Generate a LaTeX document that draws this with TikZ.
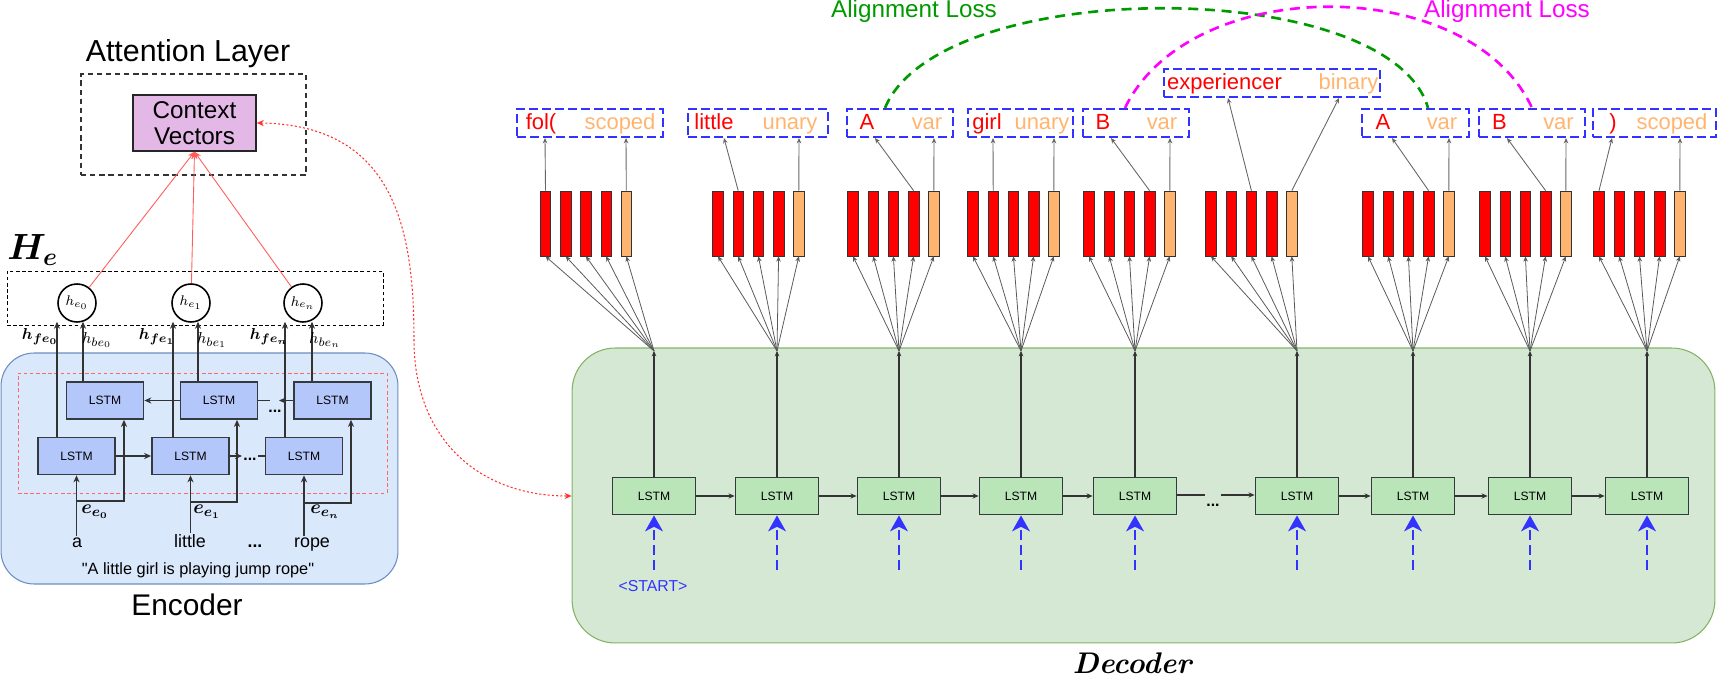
\documentclass[tikz,border=0pt]{standalone}
\usepackage{amsmath}
\usepackage{fontspec}
\setsansfont{Liberation Sans}[Ligatures=TeXOff]
\usetikzlibrary{arrows.meta,calc,positioning}
\definecolor{encfill}{HTML}{DAE8FC}
\definecolor{encedge}{HTML}{6C8EBF}
\definecolor{decfill}{HTML}{D5E8D4}
\definecolor{decedge}{HTML}{82B366}
\definecolor{lstmblue}{HTML}{B4C7FA}
\definecolor{lstmgreen}{HTML}{B9E5B9}
\definecolor{lstmedge}{HTML}{36393D}
\definecolor{ctxfill}{HTML}{E3B8E6}
\definecolor{tokred}{HTML}{FF0000}
\definecolor{tokorange}{HTML}{FFB570}
\definecolor{boxblue}{HTML}{3333FF}
\definecolor{lossgreen}{HTML}{009900}
\definecolor{lossmag}{HTML}{FF00FF}
\definecolor{attnred}{HTML}{FF3333}

\begin{document}
\begin{tikzpicture}[x=0.02cm,y=-0.02cm,font=\sffamily]
	\tikzset{lstmenc/.style={draw=lstmedge,line width=1pt,fill=lstmblue,minimum width=1.54cm,minimum height=0.74cm,inner sep=0pt,font=\sffamily\fontsize{6.9}{8}\selectfont}}
	\tikzset{lstmdec/.style={draw=lstmedge,line width=1pt,fill=lstmgreen,minimum width=1.66cm,minimum height=0.74cm,inner sep=0pt,font=\sffamily\fontsize{6.9}{8}\selectfont}}
	\tikzset{hcircle/.style={circle,draw=black,line width=0.9pt,fill=white,minimum size=0.76cm,inner sep=0pt,font=\fontsize{8.5}{10}\selectfont}}
	\tikzset{bar/.style={draw=black!80,line width=0.4pt,minimum width=0.21cm,minimum height=1.3cm,inner sep=0pt}}
	\tikzset{tokbox/.style={draw=boxblue,line width=1.2pt,dash pattern=on 5pt off 2.4pt,minimum height=0.56cm,inner sep=0pt}}
	\tikzset{tok/.style={anchor=base,inner sep=0pt,font=\sffamily\fontsize{12.5}{15}\selectfont}}
	\tikzset{word/.style={anchor=base,inner sep=1pt,font=\sffamily\fontsize{10.2}{12}\selectfont}}
	\tikzset{fan/.style={draw=black!65,line width=0.45pt,-{Stealth[length=3pt,width=2.6pt]}}}
	\tikzset{outarrow/.style={draw=black!60,line width=0.5pt,-{Stealth[length=3pt,width=2.6pt]}}}
	\tikzset{uparrow/.style={draw=black!80,line width=0.6pt,-{Stealth[length=3pt,width=2.6pt]}}}
	\tikzset{decarr/.style={draw=black!80,line width=0.6pt,-{Stealth[length=3.5pt,width=3pt]}}}
	\tikzset{inarrow/.style={draw=boxblue,line width=1.5pt,dash pattern=on 5.5pt off 3pt,-{Stealth[length=9pt,width=10pt,inset=2.5pt]}}}
	\tikzset{encarr/.style={draw=black!80,line width=0.6pt,-{Stealth[length=4pt,width=3.5pt]}}}
	\tikzset{encline/.style={draw=black!80,line width=0.6pt}}
	\tikzset{attn/.style={draw=attnred!80,line width=0.5pt,-{Stealth[length=4pt,width=3.5pt]}}}
	\tikzset{ctxlink/.style={draw=attnred,line width=0.6pt,dash pattern=on 1.2pt off 1.2pt,{Stealth[length=4pt,width=3.5pt]}-{Stealth[length=4pt,width=3.5pt]}}}
	\tikzset{lossline/.style={line width=1.5pt,dash pattern=on 5.7pt off 3.8pt}}
	\tikzset{smalldots/.style={font=\sffamily\bfseries\fontsize{9}{10}\selectfont,inner sep=0pt}}

	\useasboundingbox (0,0) rectangle (1718,678);

	% backgrounds
	\node[draw=encedge,fill=encfill,line width=0.6pt,minimum width=7.94cm,minimum height=4.62cm,rounded corners=0.66cm,inner sep=0pt] (enc) at (199.5,468.5) {};
	\node[draw=decedge,fill=decfill,line width=0.6pt,minimum width=22.86cm,minimum height=5.9cm,rounded corners=0.86cm,inner sep=0pt] (dec) at (1143.5,495.5) {};

	% attention
	\node[anchor=base,font=\sffamily\fontsize{17.3}{20}\selectfont] (attnlab) at (188,62) {Attention Layer};
	\node[draw=black!80,line width=0.9pt,dash pattern=on 3pt off 2.2pt,minimum width=4.5cm,minimum height=2.02cm] (attnbox) at (193.5,124.5) {};
	\node[draw=black!85,fill=ctxfill,line width=0.9pt,minimum width=2.46cm,minimum height=1.12cm,align=center,inner sep=0pt,font=\sffamily\fontsize{13.8}{14.5}\selectfont] (ctx) at (194.5,123) {Context\\Vectors};

	% hidden states
	\node[anchor=base west,inner sep=0pt,font=\fontsize{22}{26}\selectfont] (helab) at (7,260) {$\boldsymbol{H_e}$};
	\node[draw=black,line width=0.5pt,dash pattern=on 2pt off 1.5pt,minimum width=7.52cm,minimum height=1.08cm] (hbox) at (195,298) {};
	\node[hcircle] (he0) at (77,303) {$h_{e_0}$};
	\node[hcircle] (he1) at (191,303) {$h_{e_1}$};
	\node[hcircle] (hen) at (303,303) {$h_{e_n}$};
	\draw[attn] (he0) -- (ctx.south);
	\draw[attn] (he1) -- (ctx.south);
	\draw[attn] (hen) -- (ctx.south);

	% encoder
	\node[draw=red!60,line width=0.5pt,dash pattern=on 2pt off 1.5pt,minimum width=7.38cm,minimum height=2.4cm] (birnn) at (202.5,433) {};
	\node[lstmenc] (b1) at (105,400.5) {LSTM};
	\node[lstmenc] (b2) at (219,400.5) {LSTM};
	\node[lstmenc] (b3) at (332.5,400.5) {LSTM};
	\node[lstmenc] (f1) at (76.5,456) {LSTM};
	\node[lstmenc] (f2) at (190.5,456) {LSTM};
	\node[lstmenc] (f3) at (304,456) {LSTM};
	\node[word] (wa) at (77,548) {a};
	\node[word] (wlittle) at (190,548) {little};
	\node[word,font=\sffamily\bfseries\fontsize{10}{12}\selectfont] (wdots) at (255,548) {...};
	\node[word] (wrope) at (312,548) {rope};
	\node[anchor=base,font=\sffamily\fontsize{9.3}{11}\selectfont] (sent) at (198,575) {"A little girl is playing jump rope"};
	\node[anchor=base,font=\sffamily\fontsize{17}{20}\selectfont] (enclab) at (187,616) {Encoder};

	\coordinate (fdot) at (242,456);
	\coordinate (fdot2) at (258,456);
	\coordinate (bdot) at (279,400.5);
	\coordinate (bdot2) at (270,400.5);
	\draw[encarr] (f1) -- (f2);
	\draw[encarr] (f2) -- (fdot);
	\node[smalldots] (fdots) at (250,459) {...};
	\draw[encline] (fdot2) -- (f3);
	\draw[encarr] (b2) -- (b1);
	\draw[encline] (b2) -- (bdot2);
	\draw[encarr] (b3) -- (bdot);
	\node[smalldots] (bdots) at (275,411) {...};

	\coordinate (ea0) at (77,501);
	\coordinate (ea1) at (191,502);
	\coordinate (ean) at (304,503);
	\draw[encarr] (f1.south |- wa.north) -- (f1.south);
	\draw[encarr] (f2.south |- wlittle.north) -- (f2.south);
	\draw[encarr] (f3.south |- wrope.north) -- (f3.south);
	\draw[encarr] (ea0) -| ($(b1.south)+(19,0)$);
	\draw[encarr] (ea1) -| ($(b2.south)+(18,0)$);
	\draw[encarr] (ean) -| ($(b3.south)+(18.5,0)$);
	\node[font=\fontsize{11}{12}\selectfont] (ee0) at (95,512) {$\boldsymbol{e_{e_0}}$};
	\node[font=\fontsize{11}{12}\selectfont] (ee1) at (207,512) {$\boldsymbol{e_{e_1}}$};
	\node[font=\fontsize{11}{12}\selectfont] (een) at (325,512) {$\boldsymbol{e_{e_n}}$};

	\draw[encarr] ($(f1.north)+(-19.5,0)$) -- ($(he0.south)+(-20,-1)$);
	\draw[encarr] ($(b1.north)+(-22,0)$) -- ($(he0.south)+(6,-1)$);
	\draw[encarr] ($(f2.north)+(-17.5,0)$) -- ($(he1.south)+(-18,-1)$);
	\draw[encarr] ($(b2.north)+(-21,0)$) -- ($(he1.south)+(7,-1)$);
	\draw[encarr] ($(f3.north)+(-19,0)$) -- ($(hen.south)+(-18,-1)$);
	\draw[encarr] ($(b3.north)+(-20.5,0)$) -- ($(hen.south)+(9,-1)$);
	\node[font=\fontsize{9.5}{11}\selectfont] (lhf0) at (40,337) {$\boldsymbol{h_{fe_0}}$};
	\node[font=\fontsize{9.5}{11}\selectfont] (lhb0) at (97,340) {$h_{be_0}$};
	\node[font=\fontsize{9.5}{11}\selectfont] (lhf1) at (157,337) {$\boldsymbol{h_{fe_1}}$};
	\node[font=\fontsize{9.5}{11}\selectfont] (lhb1) at (212,340) {$h_{be_1}$};
	\node[font=\fontsize{9.5}{11}\selectfont] (lhfn) at (269,337) {$\boldsymbol{h_{fe_n}}$};
	\node[font=\fontsize{9.5}{11}\selectfont] (lhbn) at (325,340) {$h_{be_n}$};

	% decoder
	\node[lstmdec] (d1) at (654,496) {LSTM};
	\node[lstmdec] (d2) at (777,496) {LSTM};
	\node[lstmdec] (d3) at (899,496) {LSTM};
	\node[lstmdec] (d4) at (1021,496) {LSTM};
	\node[lstmdec] (d5) at (1135,496) {LSTM};
	\node[lstmdec] (d6) at (1297,496) {LSTM};
	\node[lstmdec] (d7) at (1413,496) {LSTM};
	\node[lstmdec] (d8) at (1530,496) {LSTM};
	\node[lstmdec] (d9) at (1647,496) {LSTM};
	\draw[decarr] (d1) -- (d2);
	\draw[decarr] (d2) -- (d3);
	\draw[decarr] (d3) -- (d4);
	\draw[decarr] (d4) -- (d5);
	\coordinate (ddot) at (1205,495);
	\coordinate (ddot2) at (1221,495);
	\draw[encline] (d5.east |- ddot) -- (ddot);
	\node[smalldots] (ddots) at (1213,505) {...};
	\draw[decarr] (ddot2) -- (d6.west |- ddot2);
	\draw[decarr] (d6) -- (d7);
	\draw[decarr] (d7) -- (d8);
	\draw[decarr] (d8) -- (d9);
	\node[text=boxblue,font=\sffamily\fontsize{9}{10}\selectfont] (start) at (653,586) {<START>};
	\node[anchor=base,font=\rmfamily\bfseries\itshape\fontsize{17}{20}\selectfont] (declab) at (1132,673) {Decoder};

	\foreach \i/\x in {1/654,2/777,3/899,4/1021,5/1135,6/1297,7/1413,8/1530,9/1647}{
		\coordinate (in\i) at (\x,570);
		\coordinate (f\i) at (\x,351);
		\draw[inarrow] (in\i) -- (d\i.south);
		\draw[uparrow] (d\i.north) -- (f\i);
	}

	% outputs
	\foreach \g/\bx/\la/\lb/\ly/\rtxt/\rx/\otxt/\ox/\rs/\rtx/\otx in {
		1/545.5/517/663/123/{fol(}/541/scoped/620/1/545/626,
		2/718/688/828/123/little/714/unary/790/2/724/799,
		3/853/847/953/123/A/867/var/927/4/875/934,
		4/973/968/1073/123/girl/987/unary/1042/2/993/1054,
		5/1089/1083/1189/123/B/1103/var/1162/4/1111/1170,
		6/1211/1164/1380/83/experiencer/1224.5/binary/1348.5/3/1228/1339,
		7/1368/1362/1469/123/A/1383/var/1442/4/1392/1449,
		8/1485/1479/1585/123/B/1499.5/var/1558.5/4/1507/1566,
		9/1599/1593/1716/123/{)}/1613/scoped/1672/1/1612/1680}{
		\pgfmathsetmacro\lw{(\lb-\la)*0.02}
		\pgfmathsetmacro\lc{(\la+\lb)/2}
		\node[tokbox,minimum width=\lw cm] (lab\g) at (\lc,\ly) {};
		\node[tok,text=tokred] (rt\g) at (\rx,\ly+7) {\rtxt};
		\node[tok,text=tokorange] (ot\g) at (\ox,\ly+7) {\otxt};
		\foreach \k in {1,...,5}{
			\pgfmathsetmacro\bxk{\bx+(\k-1)*20.2}
			\ifnum\k=5 \def\bcol{tokorange}\else\def\bcol{tokred}\fi
			\node[bar,fill=\bcol] (bar\g-\k) at (\bxk,223.5) {};
			\draw[fan] (f\g) -- (bar\g-\k.south);
		}
		\draw[outarrow] (bar\g-\rs.north) -- (\rtx,0 |- lab\g.south);
		\draw[outarrow] (bar\g-5.north) -- (\otx,0 |- lab\g.south);
	}

	% alignment losses
	\draw[lossline,draw=lossgreen] (lab3.north -| 885,0) .. controls (940,-25) and (1390,-25) .. (lab7.north -| 1428,0);
	\draw[lossline,draw=lossmag] (lab5.north -| 1125,0) .. controls (1190,-27) and (1470,-27) .. (lab8.north -| 1532,0);
	\node[anchor=base,text=lossgreen,font=\sffamily\fontsize{13.8}{16}\selectfont] (loss1) at (914,18) {Alignment Loss};
	\node[anchor=base,text=lossmag,font=\sffamily\fontsize{13.8}{16}\selectfont] (loss2) at (1507,18) {Alignment Loss};

	% context link
	\coordinate (cm) at (414,340);
	\draw[ctxlink] (ctx.east) .. controls (395,125) and (414,230) .. (cm) .. controls (414,440) and (480,496) .. (dec.west |- d1);
\end{tikzpicture}
\end{document}
